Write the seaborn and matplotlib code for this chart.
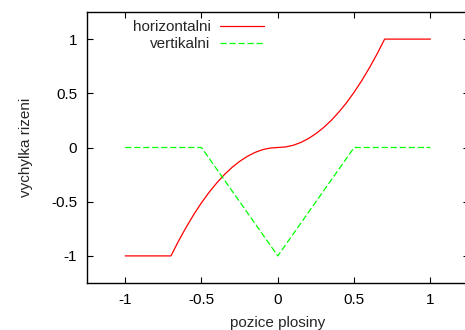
import numpy as np
import pandas as pd
import matplotlib
matplotlib.use("Agg")
import matplotlib.pyplot as plt
import seaborn as sns

x_h = [-1.0, -0.7, -0.65, -0.6, -0.55, -0.5, -0.45, -0.4, -0.35, -0.3, -0.25, -0.2, -0.15, -0.1, -0.05,
       0.0, 0.05, 0.1, 0.15, 0.2, 0.25, 0.3, 0.35, 0.4, 0.45, 0.5, 0.55, 0.6, 0.65, 0.7, 1.0]
y_h = [-1.0, -1.0, -0.862, -0.735, -0.617, -0.510, -0.413, -0.327, -0.250, -0.184, -0.128, -0.082, -0.046, -0.020, -0.005,
       0.0, 0.005, 0.020, 0.046, 0.082, 0.128, 0.184, 0.250, 0.327, 0.413, 0.510, 0.617, 0.735, 0.862, 1.0, 1.0]
x_v = [-1.0, -0.5, 0.0, 0.5, 1.0]
y_v = [0.0, 0.0, -1.0, 0.0, 0.0]

xticks = [-1, -0.5, 0, 0.5, 1]
yticks = [-1, -0.5, 0, 0.5, 1]

sns.set_style("ticks")
plt.rcParams['font.family'] = ['Liberation Sans', 'DejaVu Sans']
plt.rcParams['font.size'] = 11

fig = plt.figure(figsize=(4.65, 3.3), dpi=100)
ax = fig.add_axes([87 / 465, 1 - 283 / 330, (468.6 - 87) / 465, 271 / 330])

df_h = pd.DataFrame({"x": x_h, "y": y_h})
df_v = pd.DataFrame({"x": x_v, "y": y_v})
sns.lineplot(data=df_h, x="x", y="y", ax=ax, color="#ff0000", lw=0.9, label="horizontalni")
sns.lineplot(data=df_v, x="x", y="y", ax=ax, color="#00ff00", lw=0.9,
             linestyle=(0, (5, 2.2)), label="vertikalni")

ax.set_xlim(-1.25, 1.25)
ax.set_ylim(-1.25, 1.25)
ax.set_xticks(xticks)
ax.set_xticklabels(["-1", "-0.5", "0", "0.5", "1"])
ax.set_yticks(yticks)
ax.set_yticklabels(["-1", "-0.5", "0", "0.5", "1"])
ax.tick_params(direction="in", length=4.3, width=0.8, top=True, right=True, pad=7, colors="black")
for s in ax.spines.values():
    s.set_linewidth(1.0)
    s.set_color("black")
ax.set_xlabel("pozice plosiny", labelpad=7)
ax.set_ylabel("vychylka rizeni", labelpad=13)

ax.legend(loc="upper right", bbox_to_anchor=(264 / 465, 1 - 20 / 330), bbox_transform=fig.transFigure,
          frameon=False, markerfirst=False, handlelength=2.9, handletextpad=0.6,
          labelspacing=0.2, borderpad=0, borderaxespad=0)

fig.savefig("out.png", dpi=100)
